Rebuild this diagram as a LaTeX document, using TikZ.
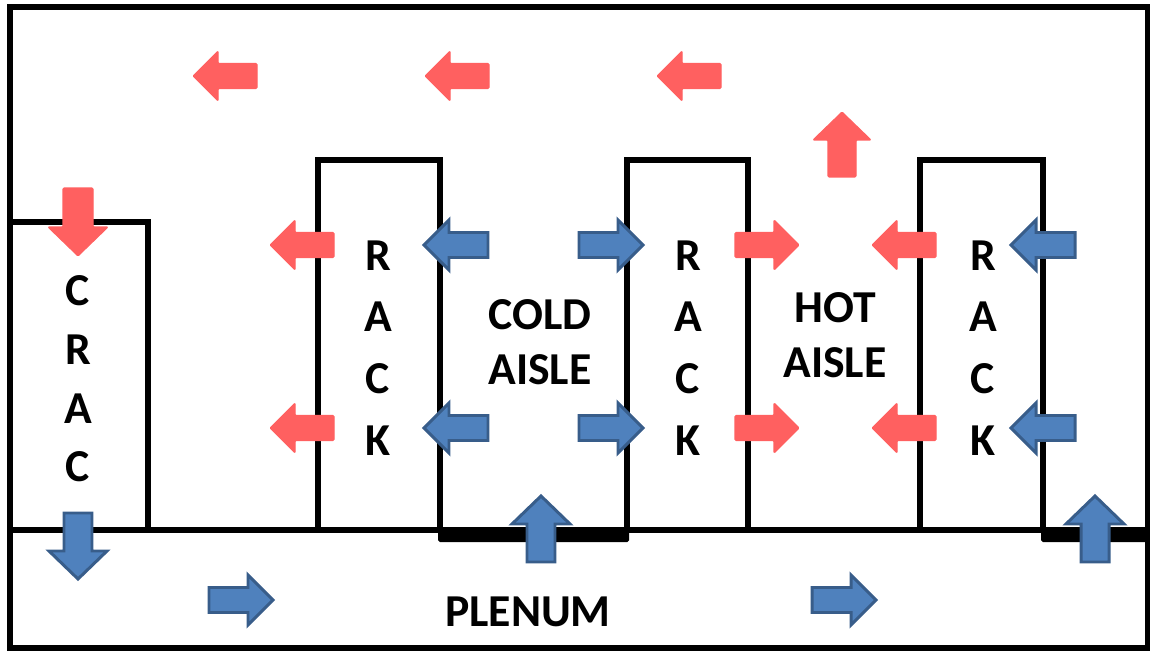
\documentclass[tikz,border=0pt]{standalone}
\usepackage{fontspec}
\setmainfont{Carlito}
\usepackage{tikz}
\usetikzlibrary{arrows.meta}

\definecolor{hotred}{HTML}{FF6060}
\definecolor{coldblue}{HTML}{4F81BD}
\definecolor{coldedge}{HTML}{385D8A}

\tikzset{
    wall/.style={line width=3.1pt, line join=miter},
    hotarrow/.style={fill=hotred, draw=hotred, line width=0.6pt, rounded corners=0.6pt},
    coldarrow/.style={fill=coldblue, draw=coldedge, line width=1.7pt, line join=miter},
    label/.style={font=\fontsize{26}{31.2}\selectfont\bfseries, align=center, inner sep=0pt},
}

% block arrow: style, tail point, direction
\newcommand{\blockarrow}[3]{%
    \draw[#1, shift={(#2)}, rotate=#3]
        (1,-12.5) -- (40,-12.5) -- (40,-25) -- (65,0) -- (40,25) -- (40,12.5) -- (1,12.5) -- cycle;}

\begin{document}
\begin{tikzpicture}[x=0.02cm, y=-0.02cm]
    \useasboundingbox (0,0) rectangle (1150,652);
    % room and floor
    \draw[wall] (10,7) rectangle (1148,648);
    \draw[wall] (10,530) -- (1148,530);
    \fill[rounded corners=1pt] (438,527) rectangle (629,542);
    \fill[rounded corners=1pt] (1041,527) rectangle (1150,542);
    % crac and racks
    \draw[wall] (10,222) -- (148,222) -- (148,530);
    \draw[wall] (318,530) |- (440,160) -- (440,530);
    \draw[wall] (627,530) |- (748,160) -- (748,530);
    \draw[wall] (920,530) |- (1043,160) -- (1043,530);
    % labels
    \node[label, font=\fontsize{26}{33.4}\selectfont\bfseries] (crac) at (78,379) {C\\R\\A\\C};
    \node[label, font=\fontsize{26}{35.2}\selectfont\bfseries] (rackA) at (378,348) {R\\A\\C\\K};
    \node[label, font=\fontsize{26}{35.2}\selectfont\bfseries] (rackB) at (688,348) {R\\A\\C\\K};
    \node[label, font=\fontsize{26}{35.2}\selectfont\bfseries] (rackC) at (983,348) {R\\A\\C\\K};
    \node[label] (cold) at (540,342) {COLD\\AISLE};
    \node[label] (hot) at (835,335) {HOT\\AISLE};
    \node[label] (plenum) at (528,612) {PLENUM};
    % hot air
    \blockarrow{hotarrow}{258,76}{180}
    \blockarrow{hotarrow}{490,76}{180}
    \blockarrow{hotarrow}{722,76}{180}
    \draw[hotarrow, shift={(842,178)}, rotate=90]
        (1,-14) -- (38,-14) -- (38,-29) -- (66,0) -- (38,29) -- (38,14) -- (1,14) -- cycle;
    \draw[hotarrow, shift={(78,188)}, rotate=270]
        (0,-15) -- (39,-15) -- (39,-30) -- (68,0) -- (39,30) -- (39,15) -- (0,15) -- cycle;
    \foreach \y in {245,428} {
        \blockarrow{hotarrow}{335,\y}{180}
        \blockarrow{hotarrow}{734,\y}{0}
        \blockarrow{hotarrow}{937,\y}{180}
    }
    % cold air
    \foreach \y in {245,428} {
        \blockarrow{coldarrow}{489,\y}{180}
        \blockarrow{coldarrow}{578,\y}{0}
        \blockarrow{coldarrow}{1076,\y}{180}
    }
    \blockarrow{coldarrow}{208,600}{0}
    \blockarrow{coldarrow}{811,600}{0}
    \draw[coldarrow, shift={(541,562)}, rotate=90]
        (0,-14) -- (38,-14) -- (38,-29) -- (66,0) -- (38,29) -- (38,14) -- (0,14) -- cycle;
    \draw[coldarrow, shift={(1095,562)}, rotate=90]
        (0,-14) -- (38,-14) -- (38,-29) -- (66,0) -- (38,29) -- (38,14) -- (0,14) -- cycle;
    \draw[coldarrow, shift={(78,513)}, rotate=270]
        (0,-14) -- (38,-14) -- (38,-29) -- (66,0) -- (38,29) -- (38,14) -- (0,14) -- cycle;
\end{tikzpicture}
\end{document}
